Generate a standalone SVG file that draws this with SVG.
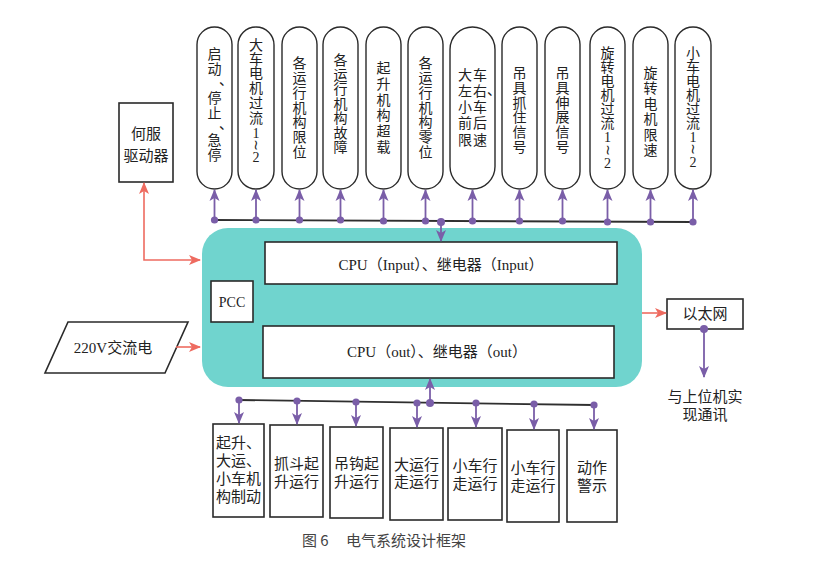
<svg xmlns="http://www.w3.org/2000/svg" width="825" height="574" viewBox="0 0 825 574">
<defs>
<style>
.t{font-family:"Liberation Serif","Noto Sans CJK SC",serif;font-size:14px;fill:#222;text-anchor:middle}
.m{font-family:"Liberation Serif","Noto Sans CJK SC",serif;font-size:15px;fill:#222;text-anchor:middle}
.b{font-family:"Liberation Serif","Noto Sans CJK SC",serif;font-size:15px;fill:#222;text-anchor:middle}
.w{font-family:"DejaVu Sans",sans-serif;font-size:14px;fill:#222;text-anchor:middle}
.pill{fill:#fff;stroke:#2a2a2a;stroke-width:1.4}
.box{fill:#fff;stroke:#2a2a2a;stroke-width:1.6}
.pl{stroke:#7a5ea8;stroke-width:1.8;fill:none}
.rd{stroke:#ee6b60;stroke-width:1.6;fill:none}
.bus{stroke:#2f2f2f;stroke-width:1.8;fill:none}
.dot{fill:#7a5ea8}
</style>
<marker id="ap" markerUnits="userSpaceOnUse" markerWidth="12" markerHeight="12" viewBox="0 0 12 12" refX="11" refY="6" orient="auto-start-reverse"><path d="M0,1 L12,6 L0,11 L3,6 Z" fill="#7a5ea8"/></marker>
<marker id="ar" markerUnits="userSpaceOnUse" markerWidth="12" markerHeight="12" viewBox="0 0 12 12" refX="11" refY="6" orient="auto-start-reverse"><path d="M0,1 L12,6 L0,11 L3,6 Z" fill="#ee6b60"/></marker>
</defs>
<rect width="825" height="574" fill="#fff"/>

<!-- PCC cyan block -->
<g id="pcc-block">
<rect x="202" y="228" width="440" height="159" rx="26" fill="#70d4ce"/>
</g>
<g id="input-box"><rect class="box" x="265" y="242" width="352" height="42"/><text class="m" x="441" y="270">CPU（Input）、继电器（Input）</text></g>
<g id="output-box"><rect class="box" x="263" y="326" width="351" height="52"/><text class="m" x="437" y="357">CPU（out）、继电器（out）</text></g>
<g id="pcc"><rect class="box" x="211" y="281" width="42" height="41"/><text class="t" x="232" y="307">PCC</text></g>

<!-- servo -->
<g id="servo"><rect class="box" x="119" y="103" width="54" height="79"/><text class="b" x="146" y="139">何服</text><text class="b" x="146" y="161">驱动器</text></g>

<!-- 220V -->
<g id="ac220"><polygon points="68,322 188,322 165,373 45,373" fill="#fff" stroke="#2a2a2a" stroke-width="1.6"/><text class="b" x="113" y="353">220V交流电</text></g>

<!-- ethernet -->
<g id="ethernet"><rect class="box" x="667" y="299" width="76" height="30"/><text class="b" x="705" y="319">以太网</text></g>
<g id="host"><text class="b" x="705" y="402">与上位机实</text><text class="b" x="705" y="420">现通讯</text></g>

<!-- top pills -->
<g id="p1"><rect class="pill" x="197" y="27" width="35" height="162" rx="17.5"/>
<text class="t"><tspan x="214.5" y="59">启</tspan><tspan x="214.5" y="74">动</tspan><tspan x="226" y="85">、</tspan><tspan x="214.5" y="103">停</tspan><tspan x="214.5" y="118">止</tspan><tspan x="226" y="129">、</tspan><tspan x="214.5" y="145">急</tspan><tspan x="214.5" y="160">停</tspan></text></g>
<g id="p2"><rect class="pill" x="238" y="27" width="36" height="162" rx="18"/>
<text class="t"><tspan x="256" y="50">大</tspan><tspan x="256" y="64">车</tspan><tspan x="256" y="78">电</tspan><tspan x="256" y="93">机</tspan><tspan x="256" y="108">过</tspan><tspan x="256" y="123">流</tspan><tspan x="256" y="138">1</tspan><tspan x="256" y="162">2</tspan></text>
<text class="w" transform="translate(256,145) rotate(90)" y="5">~</text></g>
<g id="p3"><rect class="pill" x="282" y="27" width="35" height="162" rx="17.5"/>
<text class="t"><tspan x="299.5" y="68">各</tspan><tspan x="299.5" y="83">运</tspan><tspan x="299.5" y="98">行</tspan><tspan x="299.5" y="113">机</tspan><tspan x="299.5" y="127">构</tspan><tspan x="299.5" y="142">限</tspan><tspan x="299.5" y="157">位</tspan></text></g>
<g id="p4"><rect class="pill" x="323" y="27" width="35" height="162" rx="17.5"/>
<text class="t"><tspan x="340.5" y="65">各</tspan><tspan x="340.5" y="80">运</tspan><tspan x="340.5" y="94">行</tspan><tspan x="340.5" y="109">机</tspan><tspan x="340.5" y="123">构</tspan><tspan x="340.5" y="138">故</tspan><tspan x="340.5" y="152">障</tspan></text></g>
<g id="p5"><rect class="pill" x="366" y="27" width="35" height="162" rx="17.5"/>
<text class="t"><tspan x="383.5" y="73">起</tspan><tspan x="383.5" y="89">升</tspan><tspan x="383.5" y="105">机</tspan><tspan x="383.5" y="120">构</tspan><tspan x="383.5" y="136">超</tspan><tspan x="383.5" y="152">载</tspan></text></g>
<g id="p6"><rect class="pill" x="408" y="27" width="35" height="162" rx="17.5"/>
<text class="t"><tspan x="425.5" y="68">各</tspan><tspan x="425.5" y="83">运</tspan><tspan x="425.5" y="98">行</tspan><tspan x="425.5" y="113">机</tspan><tspan x="425.5" y="127">构</tspan><tspan x="425.5" y="142">零</tspan><tspan x="425.5" y="157">位</tspan></text></g>
<g id="p7"><rect class="pill" x="450" y="27" width="45" height="162" rx="22.5"/>
<text class="t"><tspan x="465" y="80">大</tspan><tspan x="480" y="80">车</tspan><tspan x="465" y="96">左</tspan><tspan x="480" y="96">右</tspan><tspan x="494" y="95">、</tspan><tspan x="465" y="112">小</tspan><tspan x="480" y="112">车</tspan><tspan x="465" y="128">前</tspan><tspan x="480" y="128">后</tspan><tspan x="465" y="145">限</tspan><tspan x="480" y="145">速</tspan></text></g>
<g id="p8"><rect class="pill" x="502" y="27" width="35" height="162" rx="17.5"/>
<text class="t"><tspan x="519.5" y="78">吊</tspan><tspan x="519.5" y="93">具</tspan><tspan x="519.5" y="108">抓</tspan><tspan x="519.5" y="122">住</tspan><tspan x="519.5" y="137">信</tspan><tspan x="519.5" y="152">号</tspan></text></g>
<g id="p9"><rect class="pill" x="545" y="27" width="35" height="162" rx="17.5"/>
<text class="t"><tspan x="562.5" y="78">吊</tspan><tspan x="562.5" y="93">具</tspan><tspan x="562.5" y="108">伸</tspan><tspan x="562.5" y="122">展</tspan><tspan x="562.5" y="137">信</tspan><tspan x="562.5" y="152">号</tspan></text></g>
<g id="p10"><rect class="pill" x="590" y="27" width="35" height="162" rx="17.5"/>
<text class="t"><tspan x="607.5" y="58">旋</tspan><tspan x="607.5" y="72">转</tspan><tspan x="607.5" y="86">电</tspan><tspan x="607.5" y="100">机</tspan><tspan x="607.5" y="114">过</tspan><tspan x="607.5" y="128">流</tspan><tspan x="607.5" y="142">1</tspan><tspan x="607.5" y="168">2</tspan></text>
<text class="w" transform="translate(607.5,150) rotate(90)" y="5">~</text></g>
<g id="p11"><rect class="pill" x="633" y="27" width="35" height="162" rx="17.5"/>
<text class="t"><tspan x="650.5" y="78">旋</tspan><tspan x="650.5" y="93">转</tspan><tspan x="650.5" y="109">电</tspan><tspan x="650.5" y="124">机</tspan><tspan x="650.5" y="140">限</tspan><tspan x="650.5" y="155">速</tspan></text></g>
<g id="p12"><rect class="pill" x="675" y="27" width="36" height="162" rx="18"/>
<text class="t"><tspan x="693" y="58">小</tspan><tspan x="693" y="72">车</tspan><tspan x="693" y="86">电</tspan><tspan x="693" y="100">机</tspan><tspan x="693" y="114">过</tspan><tspan x="693" y="128">流</tspan><tspan x="693" y="142">1</tspan><tspan x="693" y="167">2</tspan></text>
<text class="w" transform="translate(693,149) rotate(90)" y="5">~</text></g>

<!-- bottom boxes -->
<g id="o1"><rect class="box" x="213" y="424" width="51" height="93"/><text class="b" style="text-anchor:start"><tspan x="216" y="448">起升、</tspan><tspan x="216" y="466">大运、</tspan><tspan x="216" y="484">小车机</tspan><tspan x="216" y="502">构制动</tspan></text></g>
<g id="o2"><rect class="box" x="270" y="425" width="53" height="92"/><text class="b"><tspan x="296.5" y="469">抓斗起</tspan><tspan x="296.5" y="487">升运行</tspan></text></g>
<g id="o3"><rect class="box" x="330" y="427" width="53" height="91"/><text class="b"><tspan x="356.5" y="469">吊钩起</tspan><tspan x="356.5" y="487">升运行</tspan></text></g>
<g id="o4"><rect class="box" x="390" y="428" width="53" height="92"/><text class="b"><tspan x="416.5" y="470">大运行</tspan><tspan x="416.5" y="487">走运行</tspan></text></g>
<g id="o5"><rect class="box" x="448" y="428" width="54" height="92"/><text class="b"><tspan x="475" y="471">小车行</tspan><tspan x="475" y="489">走运行</tspan></text></g>
<g id="o6"><rect class="box" x="507" y="430" width="52" height="92"/><text class="b"><tspan x="533" y="473">小车行</tspan><tspan x="533" y="491">走运行</tspan></text></g>
<g id="o7"><rect class="box" x="567" y="430" width="50" height="92"/><text class="b"><tspan x="592" y="473">动作</tspan><tspan x="592" y="491">警示</tspan></text></g>

<!-- connectors -->
<g id="connectors">
<line class="bus" x1="214.5" y1="220" x2="693" y2="222"/>
<g class="pl" marker-end="url(#ap)">
<line x1="214.5" y1="220" x2="214.5" y2="190"/>
<line x1="256" y1="220" x2="256" y2="190"/>
<line x1="299.5" y1="220" x2="299.5" y2="190"/>
<line x1="340.5" y1="220" x2="340.5" y2="190"/>
<line x1="383.5" y1="220" x2="383.5" y2="190"/>
<line x1="425.5" y1="221" x2="425.5" y2="190"/>
<line x1="472.5" y1="221" x2="472.5" y2="190"/>
<line x1="519.5" y1="221" x2="519.5" y2="190"/>
<line x1="562.5" y1="221" x2="562.5" y2="190"/>
<line x1="607.5" y1="222" x2="607.5" y2="190"/>
<line x1="650.5" y1="222" x2="650.5" y2="190"/>
<line x1="693" y1="222" x2="693" y2="190"/>
<line x1="441" y1="221" x2="441" y2="241"/>
</g>
<g class="dot">
<circle cx="214.5" cy="220" r="3.6"/><circle cx="256" cy="220" r="3.6"/><circle cx="299.5" cy="220" r="3.6"/><circle cx="340.5" cy="220" r="3.6"/><circle cx="383.5" cy="221" r="3.6"/><circle cx="425.5" cy="221" r="3.6"/><circle cx="441" cy="222" r="4"/><circle cx="472.5" cy="221" r="3.6"/><circle cx="519.5" cy="221" r="3.6"/><circle cx="562.5" cy="221" r="3.6"/><circle cx="607.5" cy="222" r="3.6"/><circle cx="650.5" cy="222" r="3.6"/><circle cx="693" cy="222" r="3.6"/>
</g>

<line class="bus" x1="239" y1="400" x2="594" y2="405"/>
<g class="pl" marker-end="url(#ap)">
<line x1="239" y1="400" x2="239" y2="423"/>
<line x1="297" y1="401" x2="297" y2="424"/>
<line x1="356" y1="402" x2="356" y2="426"/>
<line x1="417" y1="403" x2="417" y2="427"/>
<line x1="476" y1="403" x2="476" y2="427"/>
<line x1="534" y1="404" x2="534" y2="429"/>
<line x1="594" y1="405" x2="594" y2="429"/>
<line x1="430" y1="403" x2="430" y2="379"/>
</g>
<g class="dot">
<circle cx="239" cy="400" r="3.6"/><circle cx="297" cy="401" r="3.6"/><circle cx="356" cy="402" r="3.6"/><circle cx="417" cy="403" r="3.6"/><circle cx="430" cy="403" r="4"/><circle cx="476" cy="403" r="3.6"/><circle cx="534" cy="404" r="3.6"/><circle cx="594" cy="405" r="3.6"/>
</g>

<polyline class="rd" points="200,260 144,260 144,183" marker-start="url(#ar)" marker-end="url(#ar)"/>
<line class="rd" x1="176" y1="347" x2="200" y2="347" marker-end="url(#ar)"/>
<line class="rd" x1="642" y1="313" x2="666" y2="313" marker-end="url(#ar)"/>
<line class="pl" x1="704" y1="329" x2="704" y2="377" marker-end="url(#ap)"/>
<circle class="dot" cx="704" cy="329" r="4"/>
</g>

<g id="caption" style="font-family:'Noto Sans CJK SC','Liberation Sans',sans-serif;font-size:15px;fill:#444">
<text x="302" y="546">图 6</text>
<text x="346" y="546">电气系统设计框架</text>
</g>
</svg>
